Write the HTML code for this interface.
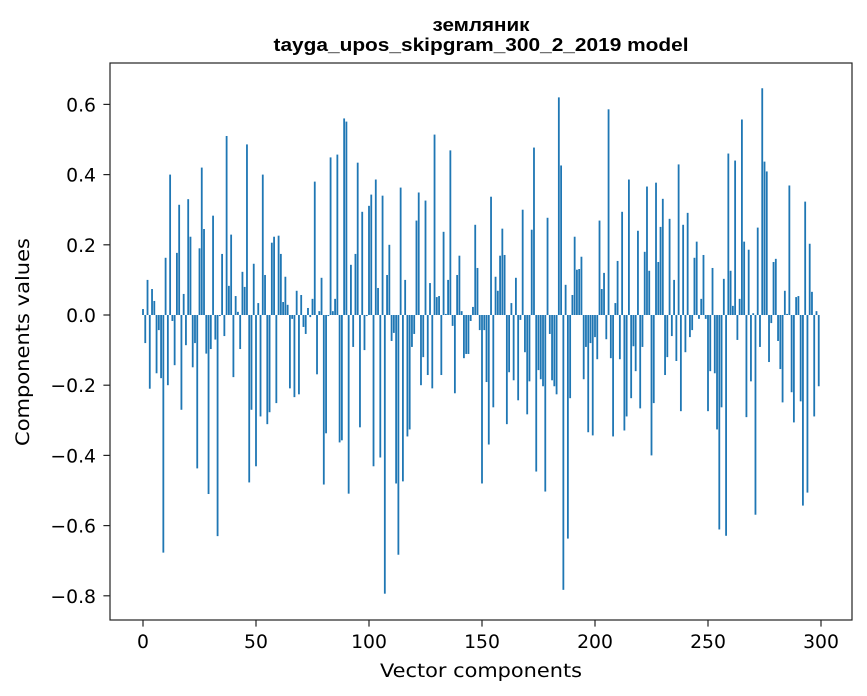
<!DOCTYPE html>
<html><head><meta charset="utf-8"><style>
html,body{margin:0;padding:0;background:#fff;}
svg{display:block;font-family:"DejaVu Sans","Liberation Sans",sans-serif;}
</style></head><body>
<svg id="chart" width="867" height="696" viewBox="0 0 867 696">
<rect x="0" y="0" width="867" height="696" fill="#fff"/>
<text x="481" y="31" text-anchor="middle" font-family="Liberation Sans, sans-serif" font-size="18" font-weight="bold" textLength="97" lengthAdjust="spacingAndGlyphs">земляник</text>
<text x="481" y="51" text-anchor="middle" font-family="Liberation Sans, sans-serif" font-size="18" font-weight="bold" textLength="415" lengthAdjust="spacingAndGlyphs">tayga_upos_skipgram_300_2_2019 model</text>
<g id="bars"></g>
<g id="axes"></g>
<rect x="110" y="63" width="742" height="557" fill="none" stroke="#222" stroke-width="1.2"/>
<text x="481" y="677" text-anchor="middle" font-size="18.8" textLength="202" lengthAdjust="spacingAndGlyphs">Vector components</text>
<text transform="translate(29,342) rotate(-90)" text-anchor="middle" font-size="18.8" textLength="208" lengthAdjust="spacingAndGlyphs">Components values</text>
</svg>
<script>
const values = [
0.017,-0.08,0.10,-0.21,0.074,0.04,-0.166,-0.043,-0.18,-0.677,0.163,-0.2,0.40,-0.017,-0.143,0.177,0.314,-0.27,0.06,-0.086,
0.33,0.223,-0.149,-0.08,-0.437,0.19,0.42,0.245,-0.11,-0.51,-0.097,0.283,-0.07,-0.63,-0.003,0.174,-0.06,0.51,0.083,0.229,
-0.177,0.054,0.009,-0.097,0.123,0.08,0.486,-0.477,-0.27,0.146,-0.431,0.034,-0.289,0.40,0.114,-0.311,-0.277,0.206,0.223,-0.251,
0.226,0.174,0.037,0.109,0.029,-0.209,-0.011,-0.234,0.069,-0.226,0.057,-0.034,-0.054,0.02,-0.006,0.046,0.38,-0.169,0.011,0.106,
-0.483,-0.337,-0.003,0.449,0.011,0.046,0.457,-0.363,-0.357,0.56,0.551,-0.509,0.143,-0.091,0.174,0.434,-0.32,0.294,-0.1,-0.003,
0.311,0.343,-0.431,0.386,0.077,-0.406,0.34,-0.794,0.114,0.2,-0.074,-0.051,-0.48,-0.683,0.363,-0.474,0.1,-0.346,-0.326,-0.091,
-0.054,0.269,0.349,-0.2,-0.12,0.326,-0.171,0.091,-0.209,0.514,0.051,0.054,-0.171,0.237,0.003,0.1,0.469,-0.031,-0.223,0.114,
0.169,0.011,-0.123,-0.111,-0.111,-0.017,0.023,0.257,0.134,-0.043,-0.48,-0.043,-0.191,-0.369,0.337,-0.263,0.109,0.069,0.169,0.246,
0.171,-0.311,-0.163,0.034,-0.186,0.106,-0.243,-0.014,0.3,-0.106,-0.283,-0.189,0.243,0.477,-0.446,-0.157,-0.183,-0.203,-0.503,0.277,
-0.054,-0.186,-0.203,-0.226,0.62,0.426,-0.783,0.086,-0.637,-0.237,0.057,0.223,0.129,0.131,0.166,-0.183,-0.091,-0.334,-0.08,-0.343,
-0.063,-0.126,0.269,0.074,0.12,-0.069,0.586,-0.123,-0.346,0.034,0.154,-0.126,0.294,-0.329,-0.289,0.386,-0.237,-0.089,-0.16,0.24,
-0.266,-0.091,0.18,0.366,0.126,-0.4,-0.251,0.377,0.151,0.251,0.331,-0.171,-0.12,0.274,-0.06,0.1,-0.131,0.429,-0.274,0.257,
-0.106,0.291,-0.063,-0.043,0.163,0.209,-0.011,0.046,0.171,-0.011,-0.274,-0.16,0.134,-0.166,-0.326,-0.611,-0.263,0.103,-0.629,0.46,
0.126,0.026,0.44,-0.071,0.046,0.557,0.209,-0.291,0.186,-0.189,0.005,-0.569,0.249,-0.091,0.646,0.437,0.409,-0.134,-0.023,0.151,
0.16,-0.074,-0.154,-0.249,0.069,0.003,0.369,-0.22,-0.306,0.051,0.054,-0.246,-0.543,0.323,-0.506,0.203,0.066,-0.289,0.011,-0.203
];
const xTicks = [0,50,100,150,200,250,300];
const yTicks = [-0.8,-0.6,-0.4,-0.2,0.0,0.2,0.4,0.6];

const NS = "http://www.w3.org/2000/svg";
function xScale(v){ return 143 + v * 2.26; }
function yScale(v){ return 315 - v * 351; }
const bars = document.getElementById('bars');
const axes = document.getElementById('axes');
values.forEach(function(v, i){
  const r = document.createElementNS(NS, 'rect');
  const y0 = yScale(0), y1 = yScale(v);
  r.setAttribute('x', xScale(i - 0.4));
  r.setAttribute('width', 0.8 * 2.26);
  r.setAttribute('y', Math.min(y0, y1));
  r.setAttribute('height', Math.max(Math.abs(y1 - y0), 0.3));
  r.setAttribute('fill', '#1f77b4');
  
  
  bars.appendChild(r);
});
xTicks.forEach(function(t){
  const x = xScale(t);
  const l = document.createElementNS(NS, 'line');
  l.setAttribute('x1', x); l.setAttribute('x2', x);
  l.setAttribute('y1', 620); l.setAttribute('y2', 626.6);
  l.setAttribute('stroke', '#222');
  l.setAttribute('stroke-width', '1.2');
  
  
  axes.appendChild(l);
  const tx = document.createElementNS(NS, 'text');
  tx.setAttribute('x', x); tx.setAttribute('y', 648);
  tx.setAttribute('text-anchor', 'middle');
  tx.setAttribute('font-size', '18.8');
  tx.textContent = String(t);
  
  
  axes.appendChild(tx);
});
yTicks.forEach(function(t){
  const y = yScale(t);
  const l = document.createElementNS(NS, 'line');
  l.setAttribute('x1', 103.4); l.setAttribute('x2', 110);
  l.setAttribute('y1', y); l.setAttribute('y2', y);
  l.setAttribute('stroke', '#222');
  l.setAttribute('stroke-width', '1.2');
  
  
  axes.appendChild(l);
  const tx = document.createElementNS(NS, 'text');
  tx.setAttribute('x', 96); tx.setAttribute('y', y + 7);
  tx.setAttribute('text-anchor', 'end');
  tx.setAttribute('font-size', '18.8');
  tx.textContent = (t < 0 ? '\u2212' : '') + Math.abs(t).toFixed(1);
  
  
  axes.appendChild(tx);
});
</script>
</body></html>
